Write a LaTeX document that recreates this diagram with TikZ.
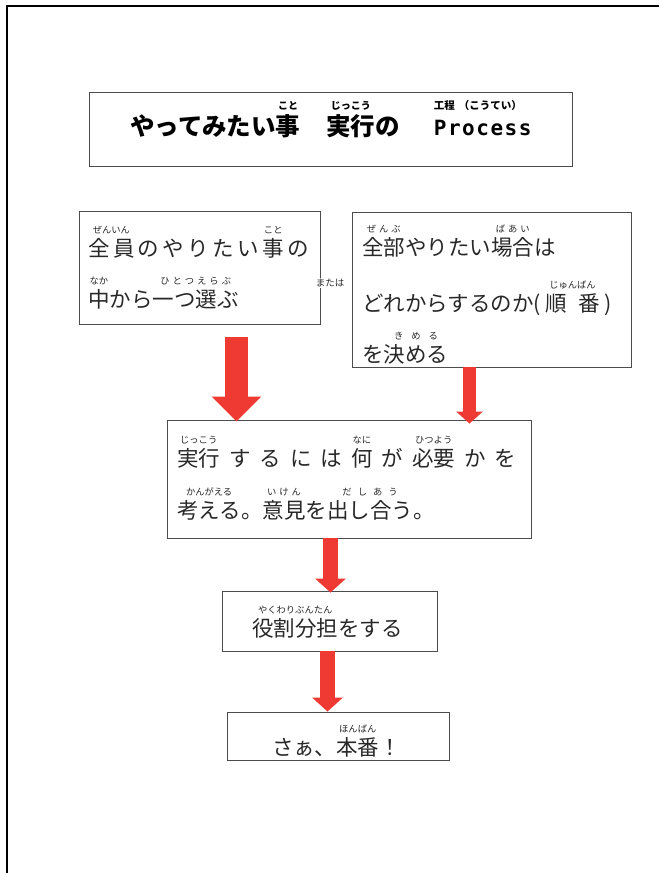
\documentclass[tikz,border=0pt]{standalone}
\usepackage{fontspec}
\newfontfamily\jp{Noto Sans CJK JP}
\newfontfamily\monob{DejaVu Sans Mono}
\usetikzlibrary{arrows.meta}
\definecolor{arrowred}{RGB}{238,58,50}
\definecolor{inkgray}{RGB}{40,40,40}
\newcommand\rubyfont{\fontsize{9.3pt}{10pt}\selectfont}
\newcommand\rb[2]{\leavevmode\setbox0\hbox{#1}\rlap{\hbox to\wd0{\hss\raisebox{1.05em}[0pt][0pt]{\rubyfont #2}\hss}}\box0}
\newcommand\ks{\kern3.4pt}
\newcommand\gp{\kern9pt}
\newcommand\rs{\kern3pt}
\newcommand\ps{\kern1.5pt}
\begin{document}
\begin{tikzpicture}[x=1pt,y=-1pt,
  box/.style={draw=black!70, line width=0.9pt, inner sep=0pt, fill=white},
  txt/.style={anchor=base west, inner sep=0pt, text=inkgray, font=\jp\fontsize{21.5pt}{22pt}\selectfont},
  fatA/.style={draw=arrowred, line width=23pt, -{Triangle[length=25pt,width=48pt]}},
  fatB/.style={draw=arrowred, line width=13pt, -{Triangle[length=12pt,width=26pt]}},
  fatC/.style={draw=arrowred, line width=15pt, -{Triangle[length=14pt,width=30pt]}},
  frame/.style={draw=black, line width=2pt}]
\useasboundingbox (0,0) rectangle (659,873);
% outer frame
\coordinate (f0) at (7,6);
\coordinate (f1) at (659,6);
\coordinate (f2) at (7,873);
\draw[frame] (f1) -- (f0) -- (f2);
% boxes
\node[box, minimum width=483pt, minimum height=74pt] (title) at (330.5,129) {};
\node[box, minimum width=241pt, minimum height=113pt] (A) at (199.5,267.5) {};
\node[box, minimum width=279pt, minimum height=155pt] (B) at (491.5,289.5) {};
\node[box, minimum width=364pt, minimum height=118pt] (C) at (349,479) {};
\node[box, minimum width=215pt, minimum height=60pt] (D) at (329.5,621) {};
\node[box, minimum width=222pt, minimum height=48pt] (E) at (338,736) {};
% arrows
\coordinate (xa) at (236.5,0);
\coordinate (xb) at (469.5,0);
\coordinate (xc) at (330.5,0);
\coordinate (xd) at (327.5,0);
\draw[fatA] ([yshift=-13pt]A.south -| xa) -- ([yshift=-2pt]C.north -| xa);
\draw[fatB] (B.south -| xb) -- ([yshift=-4pt]C.north -| xb);
\draw[fatC] (C.south -| xc) -- ([yshift=-2pt]D.north -| xc);
\draw[fatC] (D.south -| xd) -- (E.north -| xd);
% title
\node[anchor=base west, inner sep=0pt, text=black, font=\jp\bfseries\fontsize{24.5pt}{25pt}\selectfont] (t1) at (130,135)
  {やってみたい\rb{事}{\bfseries\fontsize{10pt}{10pt}\selectfont こと}\hspace{26pt}\rb{実行}{\bfseries\fontsize{10pt}{10pt}\selectfont じっこう}の\hspace{34pt}%
   \setbox2\hbox{\monob\bfseries\fontsize{21pt}{22pt}\selectfont P\ps r\ps o\ps c\ps e\ps s\ps s}%
   \rlap{\raisebox{1.05em}[0pt][0pt]{\bfseries\fontsize{10.5pt}{11pt}\selectfont 工程\kern4pt（こうてい）}}\box2};
% または
\node[inner sep=1pt, fill=white, text=inkgray, font=\jp\fontsize{9.5pt}{10pt}\selectfont] (or) at (330,283) {または};
% box A
\node[txt] (a1) at (88,256) {\rb{全\ks 員}{ぜんいん}\ks の\ks や\ks り\ks た\ks い\ks \rb{事}{こと}\ks の};
\node[txt] (a2) at (88,307) {\rb{中}{なか}から\rb{一つ選ぶ}{ひ\rs と\rs つ\rs え\rs ら\rs ぶ}};
% box B
\node[txt] (b1) at (362,255) {\rb{全部}{ぜ\rs ん\rs ぶ}やりたい\rb{場合}{ば\rs あ\rs い}は};
\node[txt] (b2) at (362,311) {どれからするのか(\kern4pt\rb{順\kern12pt 番}{じゅんばん}\kern4pt)};
\node[txt] (b3) at (362,362) {を\rb{決める}{き\kern8pt め\kern8pt る}};
% box C
\node[txt] (c1) at (177,466) {\rb{実行}{じっこう}\gp す\gp る\gp に\gp は\gp \rb{何}{なに}\gp が\gp \rb{必要}{ひつよう}\gp か\gp を};
\node[txt] (c2) at (177,518) {\rb{考える}{かんがえる}。\rb{意見}{い\rs け\rs ん}を\rb{出し合う}{だ\kern6pt し\kern6pt あ\kern6pt う}。};
% box D
\node[txt] (d1) at (252,636) {\rb{役割分担}{やくわりぶんたん}をする};
% box E
\node[txt] (e1) at (272,755) {さぁ、\rb{本番}{ほんばん}！};
\end{tikzpicture}
\end{document}
